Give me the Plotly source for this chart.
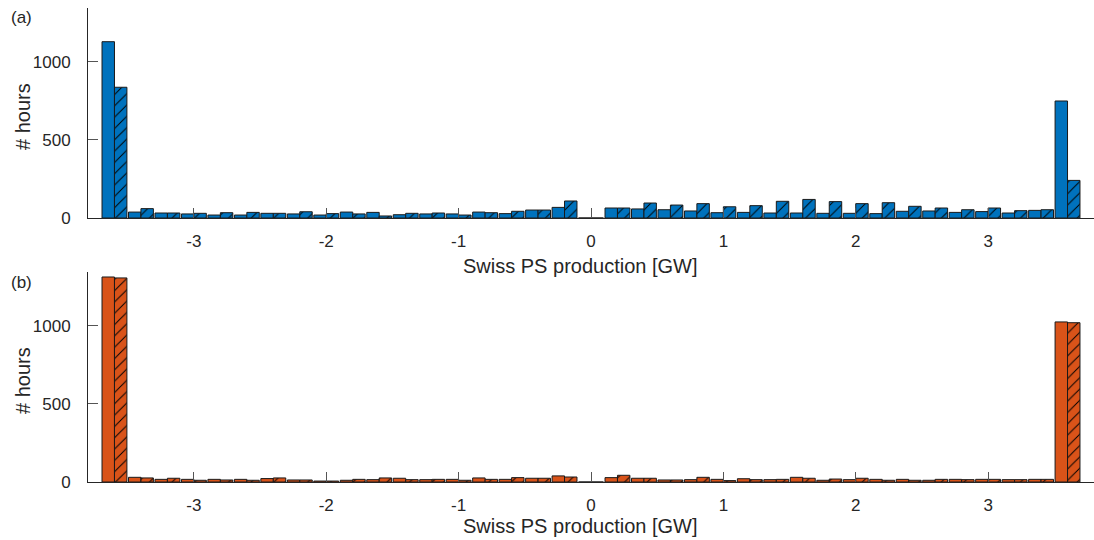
import plotly.graph_objects as go

# Bin centres of the production histogram [GW]
bin_centres = [-3.6, -3.4, -3.2, -3.0, -2.8, -2.6, -2.4, -2.2, -2.0, -1.8, -1.6, -1.4,
               -1.2, -1.0, -0.8, -0.6, -0.4, -0.2, 0.0, 0.2, 0.4, 0.6, 0.8, 1.0,
               1.2, 1.4, 1.6, 1.8, 2.0, 2.2, 2.4, 2.6, 2.8, 3.0, 3.2, 3.4, 3.6]

# Panel (a): hours per bin, solid and hatched series
a_solid = [1130, 38, 32, 26, 19, 19, 30, 26, 19, 38, 36, 21,
           26, 26, 38, 28, 51, 68, 0, 64, 58, 53, 45, 34,
           36, 32, 32, 30, 30, 28, 43, 45, 36, 41, 32, 49, 750]
a_hatch = [838, 60, 32, 30, 34, 36, 30, 40, 28, 26, 13, 30,
           32, 19, 34, 43, 51, 109, 0, 64, 96, 83, 92, 72,
           79, 107, 119, 105, 92, 98, 75, 64, 53, 64, 47, 53, 241]

# Panel (b): hours per bin, solid and hatched series
b_solid = [1314, 30, 17, 17, 17, 17, 22, 13, 6, 11, 15, 24,
           15, 17, 26, 17, 24, 39, 0, 28, 24, 13, 15, 17,
           21, 15, 30, 11, 15, 17, 17, 11, 17, 17, 15, 17, 1026]
b_hatch = [1308, 26, 24, 11, 13, 11, 26, 13, 6, 17, 26, 15,
           17, 11, 17, 28, 24, 32, 0, 43, 24, 13, 30, 9,
           15, 17, 24, 19, 24, 11, 11, 17, 15, 17, 15, 17, 1021]

x_tick_vals = [-3, -2, -1, 0, 1, 2, 3]
x_tick_text = ["-3", "-2", "-1", "0", "1", "2", "3"]
y_tick_vals = [0, 500, 1000]

X_TITLE = "Swiss PS production [GW]"
Y_TITLE = "# hours"

BLUE = "#0072BD"
ORANGE = "#D95319"
EDGE = "#1a1a1a"
TEXT = "#262626"
FONT = "Liberation Sans, Arial, sans-serif"


def bars(values, color, hatched, xa, ya):
    marker = dict(color=color, line=dict(color=EDGE, width=1))
    if hatched:
        marker["pattern"] = dict(shape="/", size=8, solidity=0.12,
                                 fgcolor="black", bgcolor=color,
                                 fillmode="replace")
    return go.Bar(x=bin_centres, y=values, marker=marker, xaxis=xa, yaxis=ya,
                  showlegend=False, hoverinfo="x+y")


fig = go.Figure()
fig.add_trace(bars(a_solid, BLUE, False, "x", "y"))
fig.add_trace(bars(a_hatch, BLUE, True, "x", "y"))
fig.add_trace(bars(b_solid, ORANGE, False, "x2", "y2"))
fig.add_trace(bars(b_hatch, ORANGE, True, "x2", "y2"))

H_LAYOUT = 530.0   # vertical reference used for placing domains and text
W = 1094.0
L = 88


def px_x(px):
    return (px - L) / (W - L)


def px_y(py):
    return 1 - py / H_LAYOUT


xaxis_style = dict(
    range=[-3.8, 3.8], tickmode="array", tickvals=x_tick_vals, ticktext=x_tick_text,
    ticks="inside", ticklen=10, tickcolor="#555555", tickwidth=1,
    showline=True, linecolor=TEXT, linewidth=1, showgrid=False, zeroline=False,
    tickfont=dict(family=FONT, size=17, color=TEXT), ticklabelstandoff=8,
    domain=[0, 1],
)
yaxis_style = dict(
    range=[0, 1346], tickmode="array", tickvals=y_tick_vals,
    ticks="inside", ticklen=10, tickcolor="#555555", tickwidth=1,
    showline=True, linecolor=TEXT, linewidth=1, showgrid=False, zeroline=False,
    tickfont=dict(family=FONT, size=17, color=TEXT), ticklabelstandoff=13,
)

fig.update_layout(
    width=1094, height=540,
    margin=dict(l=L, r=0, t=0, b=0),
    paper_bgcolor="white", plot_bgcolor="white",
    barmode="group", bargap=0.06, bargroupgap=0.0,
    showlegend=False,
    xaxis=dict(xaxis_style, anchor="y"),
    yaxis=dict(yaxis_style, anchor="x", domain=[px_y(218), px_y(8)]),
    xaxis2=dict(xaxis_style, anchor="y2"),
    yaxis2=dict(yaxis_style, anchor="x2", domain=[px_y(482), px_y(272)]),
)

# panel letters and axis titles
for label, ly, xt_y, yt_y in [("(a)", 18, 266, 117), ("(b)", 282, 526, 381)]:
    fig.add_annotation(text=label, xref="paper", yref="paper",
                       x=px_x(9), y=px_y(ly), xanchor="left", yanchor="middle",
                       showarrow=False, font=dict(family=FONT, size=17, color=TEXT))
    fig.add_annotation(text=X_TITLE, xref="paper", yref="paper",
                       x=px_x(580), y=px_y(xt_y), xanchor="center", yanchor="middle",
                       showarrow=False, font=dict(family=FONT, size=20, color=TEXT))
    fig.add_annotation(text=Y_TITLE, xref="paper", yref="paper", textangle=-90,
                       x=px_x(23), y=px_y(yt_y), xanchor="center", yanchor="middle",
                       showarrow=False, font=dict(family=FONT, size=20, color=TEXT))

fig.write_html("out.html")
